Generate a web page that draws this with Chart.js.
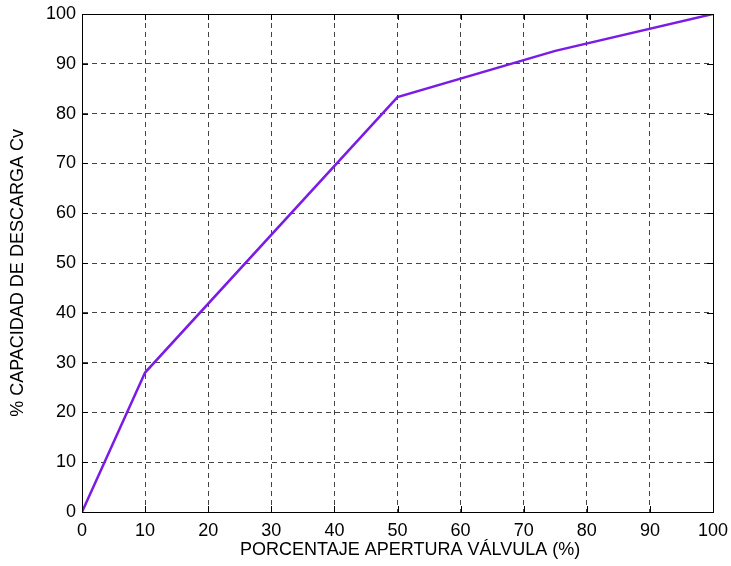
<!DOCTYPE html>
<html>
<head>
<meta charset="utf-8">
<script src="https://cdn.jsdelivr.net/npm/chart.js@4/dist/chart.umd.min.js"></script>
<style>
  html, body { margin: 0; padding: 0; background: #fff; }
  #wrap { width: 731px; height: 566px; position: relative; }
</style>
</head>
<body>
<div id="wrap"><canvas id="c" width="731" height="566"></canvas></div>
<script>
// Valve opening (%) vs. discharge capacity Cv (%)
const apertura = [0, 10, 50, 75, 100];
const capacidad = [0, 28, 83.3, 92.6, 100];
const ticksX = [0, 10, 20, 30, 40, 50, 60, 70, 80, 90, 100];
const ticksY = [0, 10, 20, 30, 40, 50, 60, 70, 80, 90, 100];
const tituloX = 'PORCENTAJE APERTURA VÁLVULA (%)';
const tituloY = '% CAPACIDAD DE DESCARGA Cv';

const FONT = 'Liberation Sans, Arial, sans-serif';

// Box frame, short inward ticks on all four sides, and the axis titles
const framePlugin = {
  id: 'frame',
  afterDraw(chart) {
    const { ctx, chartArea: a, scales } = chart;
    ctx.save();
    ctx.strokeStyle = '#000';
    ctx.lineWidth = 1;
    ctx.setLineDash([]);
    ctx.strokeRect(a.left + 0.5, a.top + 0.5, a.right - a.left, a.bottom - a.top);
    const L = 6;
    ctx.beginPath();
    ticksX.forEach(v => {
      const x = Math.round(scales.x.getPixelForValue(v)) + 0.5;
      ctx.moveTo(x, a.bottom); ctx.lineTo(x, a.bottom - L);
      ctx.moveTo(x, a.top); ctx.lineTo(x, a.top + L);
    });
    ticksY.forEach(v => {
      const y = Math.round(scales.y.getPixelForValue(v)) + 0.5;
      ctx.moveTo(a.left, y); ctx.lineTo(a.left + L, y);
      ctx.moveTo(a.right, y); ctx.lineTo(a.right - L, y);
    });
    ctx.stroke();

    ctx.fillStyle = '#000';
    ctx.font = '18px ' + FONT;
    ctx.textAlign = 'center';
    ctx.textBaseline = 'middle';
    ctx.fillText(tituloX, a.left + (a.right - a.left) * 0.52, 550);
    ctx.translate(18, a.top + (a.bottom - a.top) * 0.52);
    ctx.rotate(-Math.PI / 2);
    ctx.fillText(tituloY, 0, 0);
    ctx.restore();
  }
};

const gridColor = (ctx) => {
  const v = ctx.tick ? ctx.tick.value : null;
  return (v === 0 || v === 100) ? 'rgba(0,0,0,0)' : '#444';
};

new Chart(document.getElementById('c'), {
  type: 'scatter',
  data: {
    datasets: [{
      data: apertura.map((x, i) => ({ x, y: capacidad[i] })),
      showLine: true,
      borderColor: '#7a1be6',
      borderWidth: 2.5,
      pointRadius: 0,
      fill: false,
      tension: 0
    }]
  },
  options: {
    responsive: false,
    animation: false,
    devicePixelRatio: 1,
    layout: { padding: { top: 14, right: 18, left: 0, bottom: 0 } },
    plugins: { legend: { display: false }, tooltip: { enabled: false } },
    scales: {
      x: {
        type: 'linear', min: 0, max: 100,
        afterBuildTicks: (s) => { s.ticks = ticksX.map(v => ({ value: v })); },
        afterFit: (s) => { s.height = 54; s.paddingLeft = 0; s.paddingRight = 0; },
        grid: { color: gridColor, lineWidth: 1, drawTicks: false },
        border: { display: true, color: '#000', width: 1, dash: [5, 4] },
        ticks: { color: '#000', font: { family: FONT, size: 18 }, padding: 8, maxRotation: 0 },
        title: { display: false }
      },
      y: {
        type: 'linear', min: 0, max: 100,
        afterBuildTicks: (s) => { s.ticks = ticksY.map(v => ({ value: v })); },
        afterFit: (s) => { s.width = 82; s.paddingTop = 0; s.paddingBottom = 0; },
        grid: { color: gridColor, lineWidth: 1, drawTicks: false },
        border: { display: true, color: '#000', width: 1, dash: [5, 4] },
        ticks: { color: '#000', font: { family: FONT, size: 18 }, padding: 6 },
        title: { display: false }
      }
    }
  },
  plugins: [framePlugin]
});
</script>
</body>
</html>
